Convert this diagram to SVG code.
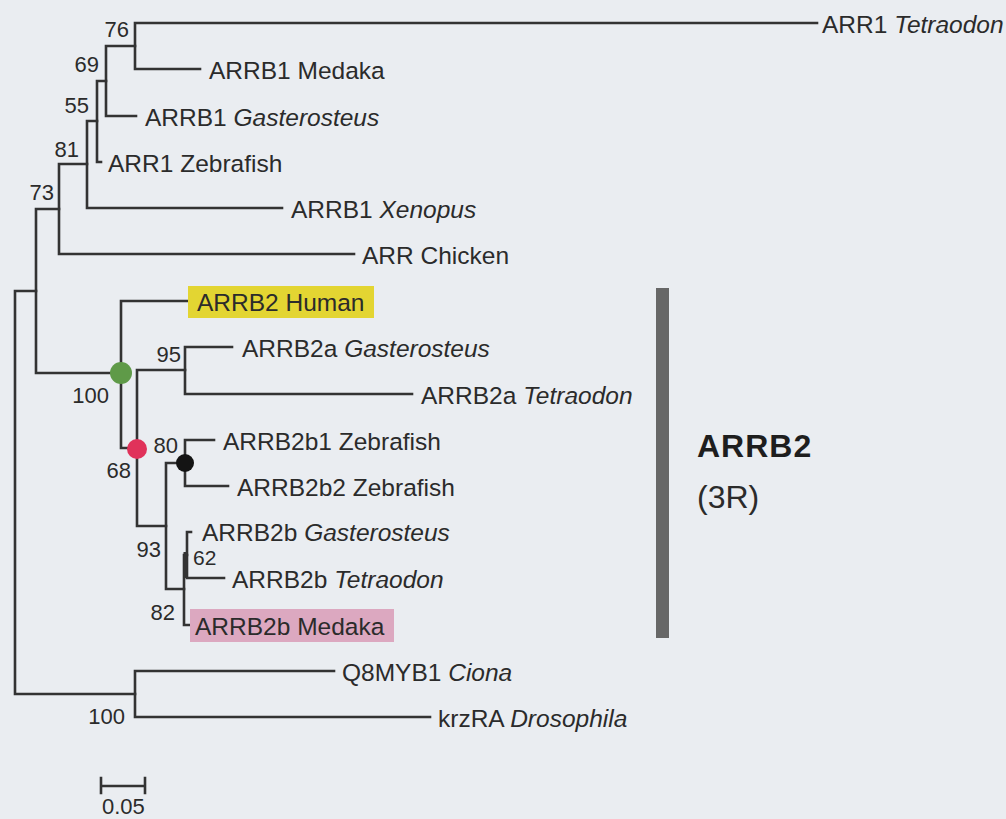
<svg xmlns="http://www.w3.org/2000/svg" width="1006" height="819" viewBox="0 0 1006 819">
<style>
.br{fill:none;stroke:#333;stroke-width:2.6;stroke-linecap:square;stroke-linejoin:miter}
.lb{font-family:"Liberation Sans",Arial,sans-serif;font-size:24.5px;fill:#2b2b2b}
.bs{font-family:"Liberation Sans",Arial,sans-serif;font-size:22px;fill:#2b2b2b;text-anchor:end}
.it{font-style:italic}
</style>
<rect width="1006" height="819" fill="#eaedf1"/>
<g id="connectors">
<path class="br" d="M817,23 H135 V69 H200"/>
<path class="br" d="M135,46 H106 V116 H136"/>
<path class="br" d="M106,81 H97 V162 H101"/>
<path class="br" d="M97,121 H87 V208 H282"/>
<path class="br" d="M87,164 H59 V254 H354"/>
<path class="br" d="M59,209 H36 V373 H121"/>
<path class="br" d="M190,301 H121 V448 H137"/>
<path class="br" d="M185,370 H137 V526 H166"/>
<path class="br" d="M232,347 H185 V394 H412"/>
<path class="br" d="M214,440 H185 V486 H228"/>
<path class="br" d="M185,463 H166 V589 H184"/>
<path class="br" d="M187,555 H184 V625 H189"/>
<path class="br" d="M191,532 H187 V578 H224"/>
<path class="br" d="M334,671 H135 V717 H430"/>
<path class="br" d="M36,291 H15 V694 H135"/>
<line x1="185.5" y1="552" x2="185.5" y2="578" stroke="#333" stroke-width="4"/>
</g>
<g id="markers">
<circle id="dot-green" cx="121" cy="373" r="11" fill="#5f9a48"/>
<circle id="dot-red" cx="137" cy="449" r="10" fill="#e0325a"/>
<circle id="dot-black" cx="185" cy="463" r="9" fill="#141414"/>
</g>
<g id="leaf-arr1-tetraodon"><text class="lb" x="822" y="33">ARR1 <tspan class="it">Tetraodon</tspan></text></g>
<g id="leaf-arrb1-medaka"><text class="lb" x="209" y="79">ARRB1 Medaka</text></g>
<g id="leaf-arrb1-gasterosteus"><text class="lb" x="145" y="126">ARRB1 <tspan class="it">Gasterosteus</tspan></text></g>
<g id="leaf-arr1-zebrafish"><text class="lb" x="108" y="172">ARR1 Zebrafish</text></g>
<g id="leaf-arrb1-xenopus"><text class="lb" x="291" y="218">ARRB1 <tspan class="it">Xenopus</tspan></text></g>
<g id="leaf-arr-chicken"><text class="lb" x="362" y="264">ARR Chicken</text></g>
<g id="leaf-arrb2-human"><rect x="188" y="286" width="186" height="32" fill="#e3d532"/><text class="lb" x="197" y="311">ARRB2 Human</text></g>
<g id="leaf-arrb2a-gasterosteus"><text class="lb" x="242" y="357">ARRB2a <tspan class="it">Gasterosteus</tspan></text></g>
<g id="leaf-arrb2a-tetraodon"><text class="lb" x="421" y="404">ARRB2a <tspan class="it">Tetraodon</tspan></text></g>
<g id="leaf-arrb2b1-zebrafish"><text class="lb" x="223" y="450">ARRB2b1 Zebrafish</text></g>
<g id="leaf-arrb2b2-zebrafish"><text class="lb" x="237" y="496">ARRB2b2 Zebrafish</text></g>
<g id="leaf-arrb2b-gasterosteus"><text class="lb" x="202" y="541">ARRB2b <tspan class="it">Gasterosteus</tspan></text></g>
<g id="leaf-arrb2b-tetraodon"><text class="lb" x="232" y="588">ARRB2b <tspan class="it">Tetraodon</tspan></text></g>
<g id="leaf-arrb2b-medaka"><rect x="190" y="609" width="204" height="33" fill="#dca8c0"/><text class="lb" x="195" y="635">ARRB2b Medaka</text></g>
<g id="leaf-q8myb1-ciona"><text class="lb" x="342" y="681">Q8MYB1 <tspan class="it">Ciona</tspan></text></g>
<g id="leaf-krzra-drosophila"><text class="lb" x="438" y="727">krzRA <tspan class="it">Drosophila</tspan></text></g>
<g id="bootstrap">
<text class="bs" x="129" y="37">76</text>
<text class="bs" x="99" y="72">69</text>
<text class="bs" x="89" y="113">55</text>
<text class="bs" x="79" y="157">81</text>
<text class="bs" x="54" y="200">73</text>
<text class="bs" x="109" y="403">100</text>
<text class="bs" x="131" y="478">68</text>
<text class="bs" x="178" y="453">80</text>
<text class="bs" x="181" y="362">95</text>
<text class="bs" x="161" y="557">93</text>
<text class="bs" x="193" y="565" style="text-anchor:start;font-size:21px">62</text>
<text class="bs" x="175" y="620">82</text>
<text class="bs" x="125" y="724">100</text>
</g>
<g id="scale-bar">
<path class="br" d="M101,786 H145 M101,778 V793 M145,778 V793"/>
<text class="bs" x="102" y="814" style="text-anchor:start">0.05</text>
</g>
<g id="clade-arrb2">
<rect x="656" y="288" width="13" height="350" fill="#676767"/>
<text x="697" y="457" style="font-family:'Liberation Sans',Arial,sans-serif;font-size:32px;font-weight:bold;fill:#1e1e1e;letter-spacing:1px">ARRB2</text>
<text x="697" y="508" style="font-family:'Liberation Sans',Arial,sans-serif;font-size:32px;fill:#2b2b2b">(3R)</text>
</g>
</svg>
